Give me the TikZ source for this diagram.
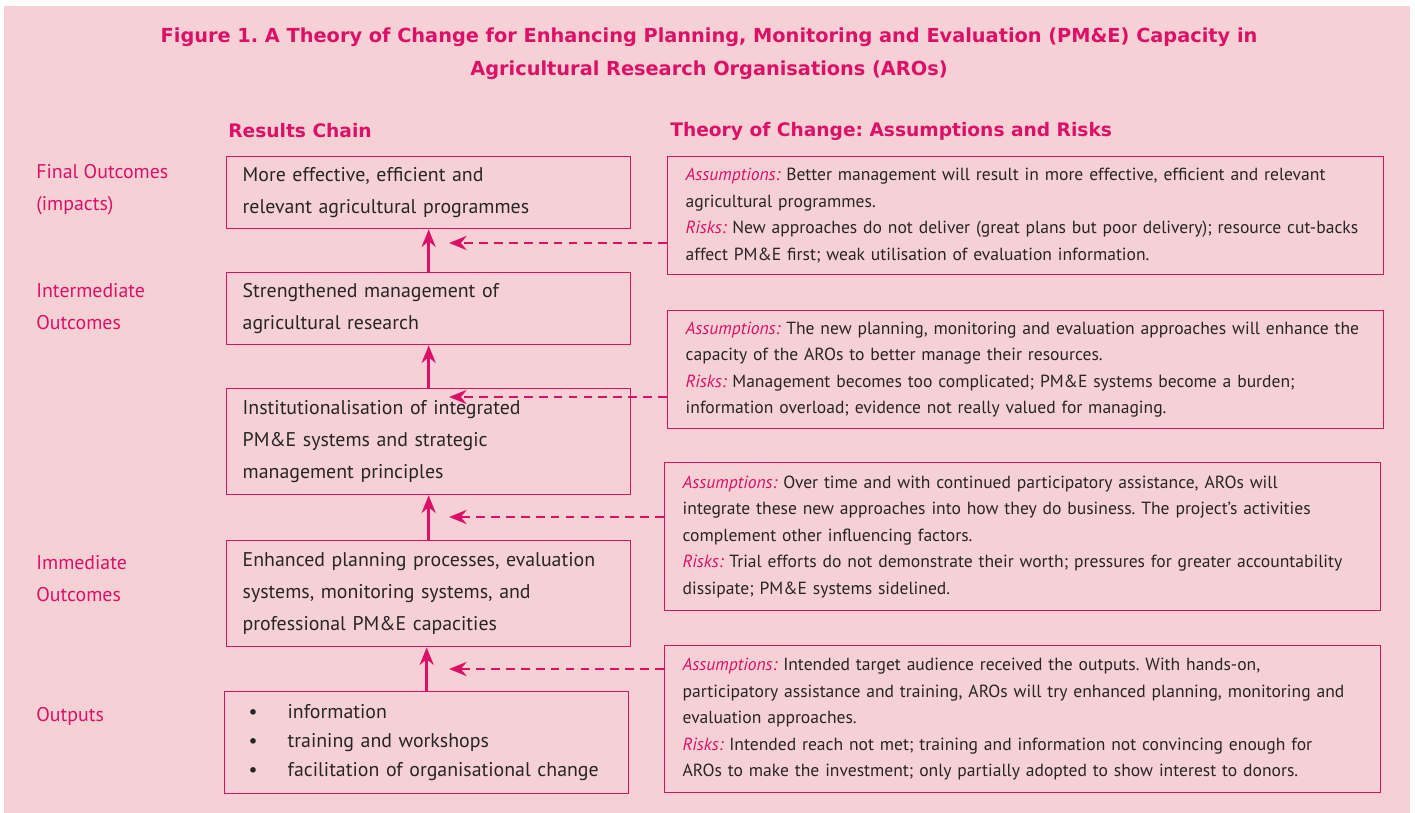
\documentclass[tikz,border=0pt]{standalone}
\usepackage{fontspec}
\setmainfont{PT Sans}
\newfontfamily\headfont{DejaVu Sans}
\usetikzlibrary{arrows.meta, positioning, calc}
\definecolor{colBg}{RGB}{245, 209, 214}
\definecolor{colM}{RGB}{221, 16, 104}
\definecolor{colTxt}{RGB}{40, 36, 38}
\frenchspacing

\tikzset{
    chainbox/.style={draw=colM, line width=0.8pt, text width=7.44cm, inner xsep=0.32cm, inner ysep=0pt,
        align=left, anchor=north west, text=colTxt, font=\fontsize{11.3}{18.2}\selectfont},
    riskbox/.style={draw=colM, line width=0.8pt, text width=13.6cm, inner xsep=0.36cm, inner ysep=0pt,
        align=left, anchor=north west, text=colTxt, font=\fontsize{10}{15.1}\selectfont},
    levellabel/.style={anchor=west, align=left, inner xsep=0pt, text=colM, font=\fontsize{11.3}{18.2}\selectfont},
    colhead/.style={anchor=west, inner xsep=0pt, text=colM, font=\headfont\bfseries\fontsize{10.6}{13}\selectfont},
    uparrow/.style={colM, line width=1.6pt, -{Stealth[length=10pt, width=8pt]}},
    riskarrow/.style={colM, line width=1.5pt, dash pattern=on 5pt off 3.5pt, -{Stealth[length=10pt, width=8pt]}}
}
\newcommand{\asm}{\textcolor{colM}{\itshape Assumptions:}}
\newcommand{\rsk}{\textcolor{colM}{\itshape Risks:}}
\newcommand{\bul}{\hspace*{0.16cm}\makebox[0.78cm][l]{\textbullet}}

\begin{document}
\begin{tikzpicture}[x=0.02cm, y=-0.02cm]
    \useasboundingbox (0,0) rectangle (1415,813);
    \fill[colBg] (4,6) rectangle (1410,813);

    % Titel
    \node[align=center, text=colM, font=\headfont\bfseries\fontsize{11}{18.8}\selectfont] (title) at (709,54)
        {Figure 1. A Theory of Change for Enhancing Planning, Monitoring and Evaluation (PM\&E) Capacity in\\
         Agricultural Research Organisations (AROs)};
    \node[colhead] (hchain) at (228,131) {Results Chain};
    \node[colhead] (htoc) at (670,131) {Theory of Change: Assumptions and Risks};

    % Ebenen links
    \node[levellabel] (lfinal) at (36,190) {Final Outcomes\\(impacts)};
    \node[levellabel] (linter) at (36,307) {Intermediate\\Outcomes};
    \node[levellabel] (limmed) at (36,579) {Immediate\\Outcomes};
    \node[levellabel] (lout) at (36,716) {Outputs};

    % Ergebniskette
    \node[chainbox, minimum height=1.44cm] (b1) at (226,156)
        {More effective, efficient and\\relevant agricultural programmes};
    \node[chainbox, minimum height=1.44cm] (b2) at (226,272)
        {Strengthened management of\\agricultural research};
    \node[chainbox, minimum height=2.12cm] (b3) at (226,388)
        {Institutionalisation of integrated\\PM\&E systems and strategic\\management principles};
    \node[chainbox, minimum height=2.12cm] (b4) at (226,540)
        {Enhanced planning processes, evaluation\\systems, monitoring systems, and\\professional PM\&E capacities};
    \node[chainbox, minimum height=2.04cm, font=\fontsize{11.3}{16.5}\selectfont] (b5) at (224,691)
        {\bul information\\\bul training and workshops\\\bul facilitation of organisational change};

    \draw[uparrow] (b2.north) -- (b1.south);
    \draw[uparrow] (b3.north) -- (b2.south);
    \draw[uparrow] (b4.north) -- (b3.south);
    \draw[uparrow] (b5.north) -- (b5.north |- b4.south);

    % Annahmen und Risiken
    \node[riskbox, minimum height=2.36cm] (r1) at (667,156)
        {\asm{} Better management will result in more effective, efficient and relevant\\
         agricultural programmes.\\
         \rsk{} New approaches do not deliver (great plans but poor delivery); resource cut-backs\\
         affect PM\&E first; weak utilisation of evaluation information.};
    \node[riskbox, minimum height=2.36cm] (r2) at (667,310)
        {\asm{} The new planning, monitoring and evaluation approaches will enhance the\\
         capacity of the AROs to better manage their resources.\\
         \rsk{} Management becomes too complicated; PM\&E systems become a burden;\\
         information overload; evidence not really valued for managing.};
    \node[riskbox, minimum height=2.96cm] (r3) at (664,462)
        {\asm{} Over time and with continued participatory assistance, AROs will\\
         integrate these new approaches into how they do business. The project's activities\\
         complement other influencing factors.\\
         \rsk{} Trial efforts do not demonstrate their worth; pressures for greater accountability\\
         dissipate; PM\&E systems sidelined.};
    \node[riskbox, minimum height=2.94cm] (r4) at (664,645)
        {\asm{} Intended target audience received the outputs. With hands-on,\\
         participatory assistance and training, AROs will try enhanced planning, monitoring and\\
         evaluation approaches.\\
         \rsk{} Intended reach not met; training and information not convincing enough for\\
         AROs to make the investment; only partially adopted to show interest to donors.};

    \coordinate (t1) at (449,243);
    \coordinate (t2) at (449,397);
    \coordinate (t3) at (449,517);
    \coordinate (t4) at (449,669);
    \draw[riskarrow] (t1 -| r1.west) -- (t1);
    \draw[riskarrow] (t2 -| r2.west) -- (t2);
    \draw[riskarrow] (t3 -| r3.west) -- (t3);
    \draw[riskarrow] (t4 -| r4.west) -- (t4);
\end{tikzpicture}
\end{document}
